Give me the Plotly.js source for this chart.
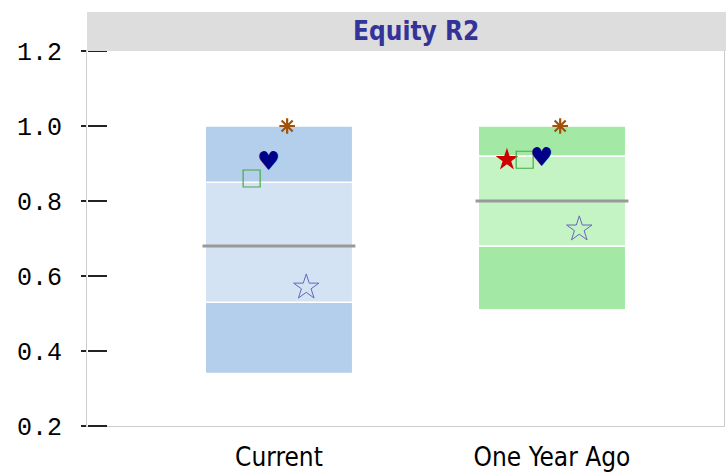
<!DOCTYPE html>
<html>
<head>
<meta charset="utf-8">
<script src="https://cdn.plot.ly/plotly-3.0.1.min.js"></script>
<style>body{margin:0;background:#fff;}#chart{width:726px;height:474px;}</style>
</head>
<body>
<div id="chart"></div>
<script>
// categories and box bands (5th, 25th, median, 75th, 95th)
var categories = ['Current', 'One Year Ago'];
var p05 = [0.34, 0.51];
var p25 = [0.53, 0.68];
var median = [0.68, 0.80];
var p75 = [0.85, 0.92];
var p95 = [1.00, 1.00];

// marker series, one value per category (null = not shown)
var redStar = [null, 0.91];
var greenSquare = [0.86, 0.91];
var heart = [0.90, 0.91];
var asterisk = [1.00, 1.00];
var openStar = [0.57, 0.725];

var darkCols = ['#b3cfeb', '#a3e9a5'];
var lightCols = ['#d3e3f4', '#c4f4c4'];
var idx = categories.map(function (c, i) { return i; });

function band(lo, hi, cols) {
    return {
        type: 'bar', x: idx, base: lo,
        y: hi.map(function (v, i) { return v - lo[i]; }),
        width: 0.54,
        marker: { color: cols, line: { color: '#ffffff', width: 1.5 } },
        hoverinfo: 'skip'
    };
}

var medX = [], medY = [];
idx.forEach(function (i) {
    medX.push(i - 0.28, i + 0.28, null);
    medY.push(median[i], median[i], null);
});

function pts(vals, off, extra) {
    var t = { type: 'scatter', mode: 'markers', x: [], y: [] };
    vals.forEach(function (v, i) {
        if (v !== null) { t.x.push(i + off); t.y.push(v); }
    });
    for (var k in extra) t[k] = extra[k];
    return t;
}

var data = [
    band(p05, p25, darkCols),
    band(p25, p75, lightCols),
    band(p75, p95, darkCols),
    { type: 'scatter', mode: 'lines', x: medX, y: medY, yaxis: 'y2',
      line: { color: '#999999', width: 3 }, hoverinfo: 'skip' },
    pts(redStar, -0.165, { yaxis: 'y2', marker: { symbol: 'star', size: 17, color: '#cc0000' } }),
    pts(greenSquare, -0.1, { yaxis: 'y2', marker: { symbol: 'square-open', size: 17, color: '#44aa44', line: { width: 1.2 } } }),
    pts(heart, -0.038, { yaxis: 'y2', mode: 'text', text: heart.filter(function (v) { return v !== null; }).map(function () { return '\u2665'; }),
        textfont: { family: 'DejaVu Sans', size: 26, color: '#000088' }, textposition: 'middle center' }),
    pts(asterisk, 0.03, { yaxis: 'y2', marker: { symbol: 'asterisk-open', size: 13, color: '#a0520a', line: { color: '#a0520a', width: 2.2 } } }),
    pts(openStar, 0.1, { yaxis: 'y2', marker: { symbol: 'star-open', size: 19, color: '#6666bb', line: { width: 1 } } })
];

var tickY = { family: 'Liberation Mono, DejaVu Sans Mono, monospace', size: 25, color: '#000000' };

var layout = {
    width: 726, height: 474,
    margin: { l: 87, r: 2, t: 51, b: 48 },
    paper_bgcolor: '#ffffff', plot_bgcolor: '#ffffff',
    showlegend: false,
    barmode: 'overlay',
    xaxis: {
        range: [-0.703, 1.63], tickvals: idx, ticktext: categories,
        showgrid: false, zeroline: false, showline: true, mirror: true,
        linecolor: '#cccccc', linewidth: 1, ticks: '',
        ticklabelstandoff: 8,
        tickfont: { family: 'Liberation Sans Narrow, DejaVu Sans Condensed, sans-serif', size: 26, color: '#000000' }
    },
    yaxis: {
        range: [0.2, 1.2], dtick: 0.2, tickformat: '.1f',
        showgrid: false, zeroline: false, showline: true, mirror: true,
        linecolor: '#cccccc', linewidth: 1,
        ticks: 'outside', ticklen: 5, tickwidth: 2, tickcolor: '#222222',
        ticklabelstandoff: 14,
        tickfont: tickY
    },
    yaxis2: {
        overlaying: 'y', side: 'right', anchor: 'free', position: 0,
        range: [0.2, 1.2], dtick: 0.2, showticklabels: false,
        showgrid: false, zeroline: false, showline: false,
        ticks: 'outside', ticklen: 19, tickwidth: 2, tickcolor: '#222222'
    },
    shapes: [
        { type: 'rect', xref: 'paper', yref: 'paper', x0: 0, x1: 1.01, y0: 1, y1: 1.104,
          fillcolor: '#dddddd', line: { width: 0 }, layer: 'above' }
    ],
    annotations: [
        { xref: 'paper', yref: 'paper', x: 0.517, y: 1.052, yanchor: 'middle', showarrow: false,
          text: '<b>Equity R2</b>',
          font: { family: 'DejaVu Sans Condensed, DejaVu Sans, sans-serif', size: 26, color: '#333399' } }
    ]
};

Plotly.newPlot('chart', data, layout, { displayModeBar: false });
</script>
</body>
</html>
